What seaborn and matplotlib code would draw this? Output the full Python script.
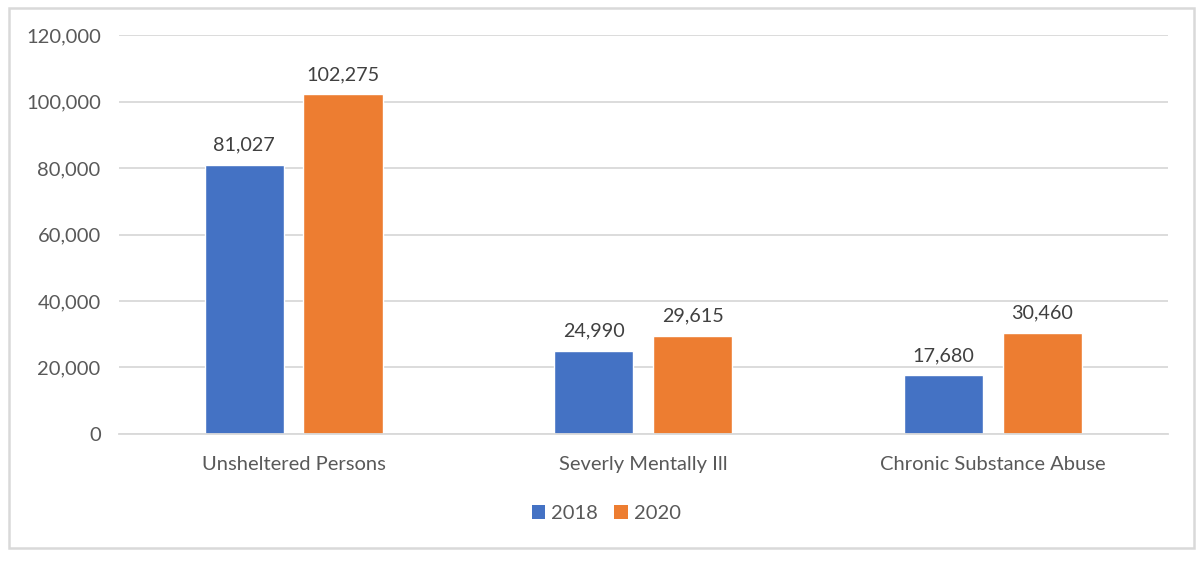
import matplotlib
matplotlib.use("Agg")
import matplotlib.pyplot as plt
import seaborn as sns
import pandas as pd
from matplotlib.patches import Rectangle, Patch
from matplotlib.ticker import FuncFormatter

categories = ["Unsheltered Persons", "Severly Mentally Ill", "Chronic Substance Abuse"]
years = ["2018", "2020"]
values_2018 = [81027, 24990, 17680]
values_2020 = [102275, 29615, 30460]
y_ticks = [0, 20000, 40000, 60000, 80000, 100000, 120000]
colors = ["#4472C4", "#ED7D31"]

df = pd.DataFrame({
    "category": categories * 2,
    "year": [years[0]] * 3 + [years[1]] * 3,
    "value": values_2018 + values_2020,
})

sns.set_theme(style="white")
plt.rcParams["font.family"] = ["Lato", "DejaVu Sans"]
text_col = "#595959"

fig = plt.figure(figsize=(12, 5.77), dpi=100)
ax = fig.add_axes([0.099, 0.248, 0.874, 0.691])

sns.barplot(data=df, x="category", y="value", hue="year",
            palette=colors, width=0.566, gap=0.2,
            saturation=1, ax=ax, legend=False)

ax.set_ylim(0, 120000)
ax.set_yticks(y_ticks)
ax.yaxis.set_major_formatter(FuncFormatter(lambda v, p: f"{int(v):,}"))
ax.grid(axis="y", color="#D9D9D9", linewidth=1.3)
ax.set_axisbelow(True)
for s in ["top", "right", "left"]:
    ax.spines[s].set_visible(False)
ax.spines["bottom"].set_color("#D9D9D9")
ax.spines["bottom"].set_linewidth(1.3)
ax.tick_params(axis="y", length=0, pad=13, labelsize=14.5, labelcolor=text_col)
ax.tick_params(axis="x", length=0, pad=16, labelsize=14.5, labelcolor=text_col)
ax.set_xlabel("")
ax.set_ylabel("")
ax.set_xlim(-0.5, 2.5)

for cont in ax.containers:
    ax.bar_label(cont, labels=[f"{int(v):,}" for v in cont.datavalues],
                 padding=8, fontsize=14.2, color="#404040")

handles = [Patch(facecolor=c, edgecolor="none", label=y) for c, y in zip(colors, years)]
leg = ax.legend(handles=handles, loc="center", bbox_to_anchor=(0.5 - 0.035, -0.2), ncol=2,
                frameon=False, fontsize=14.5, handlelength=0.65, handleheight=0.65,
                handletextpad=0.3, columnspacing=0.8)
for t in leg.get_texts():
    t.set_color(text_col)

fig.patches.append(Rectangle((9 / 1200, 1 - 548 / 577), 1185 / 1200, 540 / 577,
                             transform=fig.transFigure, fill=False,
                             edgecolor="#D9D9D9", linewidth=1.8))

fig.savefig("out.png", dpi=100)
